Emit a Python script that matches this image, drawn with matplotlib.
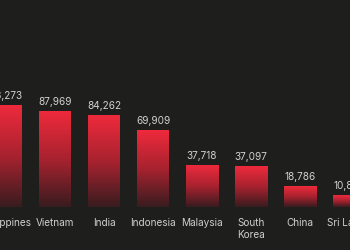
import matplotlib
matplotlib.use("Agg")
import matplotlib.pyplot as plt
import numpy as np
from matplotlib.colors import LinearSegmentedColormap

countries = ["Philippines", "Vietnam", "India", "Indonesia", "Malaysia", "South\nKorea", "China", "Sri Lanka"]
values = [93273, 87969, 84262, 69909, 37718, 37097, 18786, 10838]

bg = "#1e1e1c"
fig = plt.figure(figsize=(3.5, 2.5), dpi=100, facecolor=bg)
ax = fig.add_axes([0, 0, 1, 1])
ax.set_facecolor(bg)
ax.axis("off")

cmap = LinearSegmentedColormap.from_list("g", ["#381c1f", "#a8222f", "#ee2a3c"])
grad = np.linspace(0, 1, 256).reshape(-1, 1)
w = 32 / 49
for i, (c, v) in enumerate(zip(countries, values)):
    ax.imshow(grad, cmap=cmap, aspect="auto", origin="lower",
              extent=(i - w / 2, i + w / 2, 0, v), interpolation="bicubic", zorder=2)
    ax.text(i, v + 4000, f"{v:,}", ha="center", va="bottom", color="#d0d0d0",
            fontsize=7.2, family="Inter")
    ax.text(i, -9800, c, ha="center", va="top", color="#cfcfcf",
            fontsize=7.2, family="Inter", linespacing=1.3)
ax.set_xlim(-6 / 49, 344 / 49)
ax.set_ylim(-43 / 1.091 * 1000, 207 / 1.091 * 1000)
fig.savefig("out.png", dpi=100, facecolor=bg)
